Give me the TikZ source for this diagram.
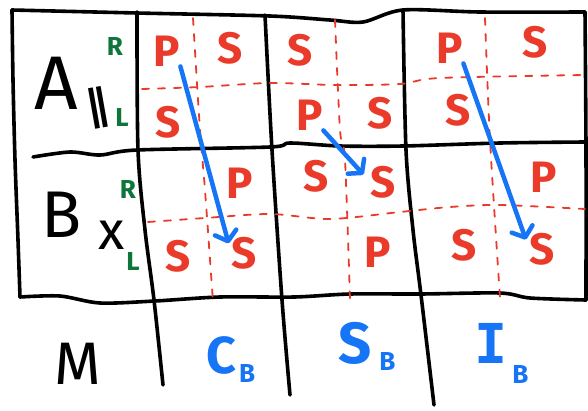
\documentclass[tikz,border=0pt]{standalone}
\usepackage{fontspec}
\setmainfont{Fira Sans}
\newfontfamily\monofam{DejaVu Sans Mono}
\newfontfamily\symfam{DejaVu Sans}
\usetikzlibrary{arrows.meta}

\definecolor{penred}{RGB}{234,58,42}
\definecolor{penblue}{RGB}{22,116,246}
\definecolor{pengreen}{RGB}{14,118,58}

\tikzset{
  rule/.style={line width=3.6pt,line cap=round,line join=round},
  split/.style={penred,line width=1.8pt,line cap=round,dash pattern=on 7pt off 9pt},
  gene/.style={penred,inner sep=0pt,font=\fontsize{44}{44}\selectfont\bfseries},
  side/.style={pengreen,inner sep=0pt,font=\fontsize{26}{26}\selectfont\bfseries},
  big/.style={inner sep=0pt,font=\fontsize{#1}{#1}\selectfont},
  kind/.style={penblue,inner sep=0pt,anchor=base west,font=\fontsize{#1}{#1}\selectfont\bfseries},
  flow/.style={penblue,line width=4.5pt,line cap=round,shorten >=10pt,
    -{Straight Barb[length=9pt,width=22pt,round]}},
}
\newcommand{\subB}[2]{\hspace{#1}\raisebox{-#2}{\fontsize{26}{26}\selectfont\normalfont\bfseries B}}

\begin{document}
\begin{tikzpicture}[x=1pt,y=-1pt]
  \useasboundingbox[fill=white] (0,0) rectangle (588,410);

  % table
  \draw[rule] plot[smooth] coordinates {(12,10) (137,13) (270,16) (330,20) (363,22) (403,10) (480,12) (585,12)};
  \draw[rule] plot[smooth] coordinates {(12,10) (13,80) (15,160) (18,240) (20,297)};
  \draw[rule] plot[smooth] coordinates {(585,12) (586,150) (586,300)};
  \draw[rule] plot[smooth] coordinates {(20,297) (60,296) (100,303) (155,301) (220,297) (294,297) (350,294) (420,294) (500,293) (530,298) (586,300)};
  \draw[rule] plot[smooth] coordinates {(33,157) (70,152) (100,155) (137,150) (270,147) (290,143) (340,146) (403,146) (500,143) (585,142)};
  \draw[rule] plot[smooth] coordinates {(137,12) (138,150) (145,230) (154,300) (163,385)};
  \draw[rule] plot[smooth] coordinates {(265,15) (272,150) (282,300) (290,395)};
  \draw[rule] plot[smooth] coordinates {(403,10) (406,150) (413,230) (421,295) (434,405)};

  % quarters
  \draw[split] plot[smooth] coordinates {(193,18) (200,130) (205,190) (213,302)};
  \draw[split] plot[smooth] coordinates {(335,20) (340,130) (345,160) (350,300)};
  \draw[split] plot[smooth] coordinates {(485,18) (490,140) (500,298)};
  \draw[split] plot[smooth] coordinates {(142,89) (200,87) (270,83) (335,85) (400,84) (440,78) (585,75)};
  \draw[split] plot[smooth] coordinates {(148,222) (205,218) (270,214) (330,219) (400,212) (450,207) (500,205) (585,209)};

  % row labels
  \node[big=76] (rowA) at (56,83) {A};
  \node[rotate=10,inner sep=0pt,font=\fontsize{42}{42}\symfam\bfseries] (eq) at (98,108) {∥};
  \node[side] (aR) at (115,46) {R};
  \node[side] (aL) at (122,117) {L};
  \node[big=66] (rowB) at (62,215) {B};
  \node[big=54] (cross) at (112,235) {x};
  \node[side] (bR) at (128,189) {R};
  \node[side] (bL) at (133,261) {L};

  % column C
  \node[gene] (cAp) at (167,51) {P};
  \node[gene] (cAs1) at (230,48) {S};
  \node[gene] (cAs2) at (168,122) {S};
  \node[gene] (cBp) at (240,183) {P};
  \node[gene] (cBs1) at (178,256) {S};
  \node[gene] (cBs2) at (244,253) {S};

  % column S
  \node[gene] (sAs1) at (300,50) {S};
  \node[gene] (sAp) at (310,115) {P};
  \node[gene] (sAs2) at (380,113) {S};
  \node[gene] (sBs1) at (316,176) {S};
  \node[gene] (sBs2) at (383,182) {S};
  \node[gene] (sBp) at (378,252) {P};

  % column I
  \node[gene] (iAp) at (450,48) {P};
  \node[gene] (iAs1) at (535,42) {S};
  \node[gene] (iAs2) at (458,110) {S};
  \node[gene] (iBp) at (544,177) {P};
  \node[gene] (iBs1) at (464,245) {S};
  \node[gene] (iBs2) at (542,249) {S};

  % crossing over
  \draw[flow] (cAp.south east) -- (cBs2.west);
  \draw[flow] (sAp.south east) -- (sBs2.west);
  \draw[flow] (iAp.south east) -- (iBs2.west);

  % bottom labels
  \node[big=60] (mom) at (78,364) {M};
  \node[kind=52] (kC) at (206,373) {C\subB{3pt}{9pt}};
  \node[kind=58] (kS) at (338,363) {S\subB{8pt}{7pt}};
  \node[kind=55] (kI) at (474,363) {{\monofam I}\subB{5pt}{20pt}};
\end{tikzpicture}
\end{document}
